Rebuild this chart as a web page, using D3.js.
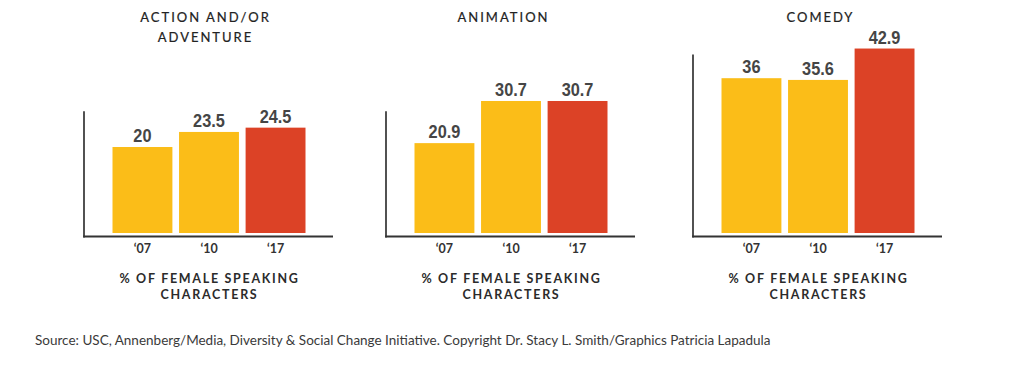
<!DOCTYPE html>
<html>
<head>
<meta charset="utf-8">
<script src="https://cdn.jsdelivr.net/npm/d3@7"></script>
<style>
  body { margin: 0; background: #fff; }
  svg { display: block; }
</style>
</head>
<body>
<div id="chart"></div>
<script>
var w = 1023;
var h = 371;

// data
var genres = [["ACTION AND/OR", "ADVENTURE"], ["ANIMATION"], ["COMEDY"]];
var years = ["‘07", "‘10", "‘17"];
var action = [20, 23.5, 24.5];
var animation = [20.9, 30.7, 30.7];
var comedy = [36, 35.6, 42.9];
var axisTop = [28.3, 28.3, 41.5]; // where each y axis line stops, in data units
var axisTitle = ["% OF FEMALE SPEAKING", "CHARACTERS"];
var source = "Source: USC, Annenberg/Media, Diversity & Social Change Initiative. Copyright Dr. Stacy L. Smith/Graphics Patricia Lapadula";

var series = [action, animation, comedy];
var panelX = [84, 386, 693]; // left edge of each y axis
var titleShift = [-3, -7, 3];
var axisLen = 249;
var baseline = 233;
var colors = ["#fbbd18", "#fbbd18", "#dc4226"];

var svg = d3.select("#chart")
            .append("svg")
            .attr("width", w)
            .attr("height", h);

var yScale = d3.scaleLinear()
        .domain([0, 10])
        .range([baseline, baseline - 43]);

series.forEach(function(values, p) {
    var x0 = panelX[p];
    var g = svg.append("g");

    var xScale = d3.scaleBand()
            .domain(years)
            .range([x0 + 28.5, x0 + 28.5 + 193])
            .paddingInner(0.1)
            .paddingOuter(0);

    var cx = x0 + axisLen / 2;

    // bars
    g.selectAll("rect")
        .data(values)
        .enter()
        .append("rect")
        .attr("x", function(d, i) { return xScale(years[i]); })
        .attr("y", function(d) { return yScale(d); })
        .attr("width", xScale.bandwidth())
        .attr("height", function(d) { return baseline - yScale(d); })
        .attr("fill", function(d, i) { return colors[i]; });

    // value labels, squeezed sideways to look condensed
    g.selectAll("text.val")
        .data(values)
        .enter()
        .append("text")
        .attr("class", "val")
        .attr("transform", function(d, i) {
            var tx = xScale(years[i]) + xScale.bandwidth() / 2;
            return "translate(" + tx + "," + (yScale(d) - 5) + ") scale(0.86,1)";
        })
        .attr("text-anchor", "middle")
        .attr("font-family", "'Liberation Sans', Arial, sans-serif")
        .attr("font-weight", "bold")
        .attr("font-size", 19)
        .attr("fill", "#454545")
        .text(function(d) { return d; });

    // y axis line
    g.append("line")
        .attr("x1", x0).attr("x2", x0)
        .attr("y1", yScale(axisTop[p])).attr("y2", baseline + 4.5)
        .attr("stroke", "#333")
        .attr("stroke-width", 1.7);

    // x axis line
    g.append("line")
        .attr("x1", x0 - 0.8).attr("x2", x0 + axisLen)
        .attr("y1", baseline + 3.5).attr("y2", baseline + 3.5)
        .attr("stroke", "#333")
        .attr("stroke-width", 2);

    // year labels through the axis generator
    var ax = g.append("g")
        .attr("transform", "translate(0," + (baseline + 3.5) + ")")
        .call(d3.axisBottom(xScale).tickSize(0).tickPadding(8));
    ax.select(".domain").remove();
    ax.selectAll("text")
        .attr("font-family", "Lato, sans-serif")
        .attr("font-weight", "bold")
        .attr("font-size", 12.5)
        .attr("fill", "#333");

    // axis title
    g.selectAll("text.atitle")
        .data(axisTitle)
        .enter()
        .append("text")
        .attr("class", "atitle")
        .attr("x", cx + 1)
        .attr("y", function(d, i) { return 282.5 + i * 16.5; })
        .attr("text-anchor", "middle")
        .attr("font-family", "Lato, sans-serif")
        .attr("font-weight", "bold")
        .attr("font-size", 12.5)
        .attr("letter-spacing", 1.7)
        .attr("fill", "#2b2b2b")
        .text(function(d) { return d; });

    // genre title
    g.selectAll("text.gtitle")
        .data(genres[p])
        .enter()
        .append("text")
        .attr("class", "gtitle")
        .attr("x", cx + titleShift[p])
        .attr("y", function(d, i) { return 21.5 + i * 20; })
        .attr("text-anchor", "middle")
        .attr("font-family", "Lato, sans-serif")
        .attr("font-weight", "normal")
        .attr("font-size", 13)
        .attr("letter-spacing", 2)
        .attr("fill", "#222")
        .attr("stroke", "#222")
        .attr("stroke-width", 0.2)
        .text(function(d) { return d; });
});

svg.append("text")
    .attr("x", 35)
    .attr("y", 345)
    .attr("font-family", "Lato, sans-serif")
    .attr("font-size", 13.5)
    .attr("fill", "#3a3a3a")
    .text(source);
</script>
</body>
</html>
